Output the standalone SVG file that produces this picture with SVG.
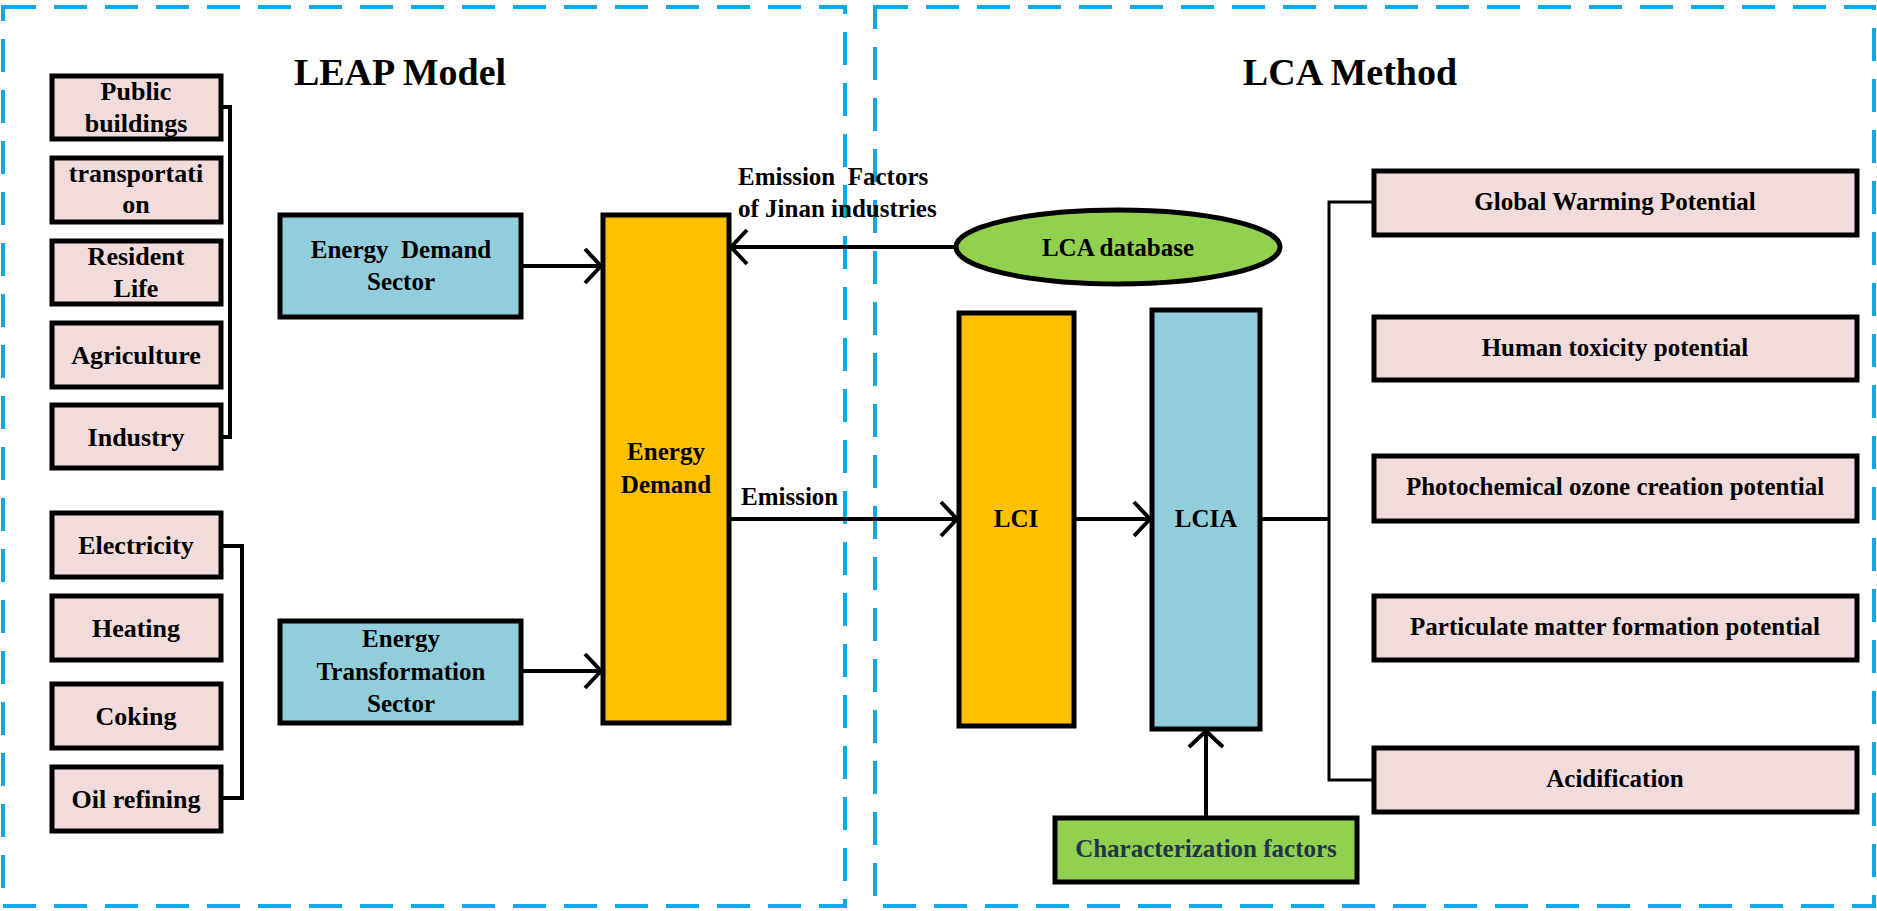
<svg xmlns="http://www.w3.org/2000/svg" width="1877" height="911" viewBox="0 0 1877 911">
<style>
.panel{fill:none;stroke:#0FA8E8;stroke-width:4;stroke-dasharray:33 18}
.box{stroke:#000;stroke-width:5}
.pink{fill:#F2DCDB}
.blue{fill:#92CDDC}
.yellow{fill:#FFC000}
.green{fill:#92D050}
text{font-family:"Liberation Serif","Times New Roman",serif;font-weight:bold;font-size:25px;fill:#000;text-anchor:middle;white-space:pre}
.sm{font-size:26px}
.title{font-size:38px}
.lbl{text-anchor:start}
.conn{fill:none;stroke:#000;stroke-width:4}
.thin{fill:none;stroke:#000;stroke-width:3}
</style>
<defs>
<marker id="arr" viewBox="0 0 20 40" refX="18" refY="20" markerWidth="20" markerHeight="40" markerUnits="userSpaceOnUse" orient="auto">
<path d="M2,3 L18,20 L2,37" fill="none" stroke="#000" stroke-width="4"/>
</marker>
</defs>
<rect width="1877" height="911" fill="#fff"/>
<g id="panels">
<rect class="panel" x="3" y="7" width="842" height="899"/>
<rect class="panel" x="875" y="7" width="999" height="899"/>
<text class="title" x="400" y="85">LEAP Model</text>
<text class="title" x="1350" y="85">LCA Method</text>
</g>
<g id="connectors">
<polyline class="conn" points="221,107 230,107 230,437 221,437"/>
<polyline class="conn" points="221,546 242,546 242,798 221,798"/>
<line class="conn" x1="521" y1="266" x2="601" y2="266" marker-end="url(#arr)"/>
<line class="conn" x1="521" y1="671" x2="601" y2="671" marker-end="url(#arr)"/>
<line class="conn" x1="956" y1="247" x2="731" y2="247" marker-end="url(#arr)"/>
<line class="conn" x1="729" y1="519" x2="957" y2="519" marker-end="url(#arr)"/>
<line class="conn" x1="1074" y1="519" x2="1150" y2="519" marker-end="url(#arr)"/>
<line class="conn" x1="1206" y1="818" x2="1206" y2="731" marker-end="url(#arr)"/>
<line class="conn" x1="1260" y1="519" x2="1329" y2="519"/>
<polyline class="thin" points="1374,202 1329,202 1329,780 1374,780"/>
<text class="lbl" x="738" y="185">Emission  Factors</text>
<text class="lbl" x="738" y="217">of Jinan industries</text>
<text class="lbl" x="741" y="505">Emission</text>
</g>
<g id="public-buildings"><rect class="box pink" x="52" y="76" width="169" height="63"/><text class="sm" x="136" y="100">Public</text><text class="sm" x="136" y="132">buildings</text></g>
<g id="transportation"><rect class="box pink" x="52" y="158" width="169" height="64"/><text class="sm" x="136" y="182">transportati</text><text class="sm" x="136" y="213">on</text></g>
<g id="resident-life"><rect class="box pink" x="52" y="241" width="169" height="63"/><text class="sm" x="136" y="265">Resident</text><text class="sm" x="136" y="297">Life</text></g>
<g id="agriculture"><rect class="box pink" x="52" y="323" width="169" height="64"/><text class="sm" x="136" y="364">Agriculture</text></g>
<g id="industry"><rect class="box pink" x="52" y="405" width="169" height="63"/><text class="sm" x="136" y="446">Industry</text></g>
<g id="electricity"><rect class="box pink" x="52" y="513" width="169" height="64"/><text class="sm" x="136" y="554">Electricity</text></g>
<g id="heating"><rect class="box pink" x="52" y="596" width="169" height="64"/><text class="sm" x="136" y="637">Heating</text></g>
<g id="coking"><rect class="box pink" x="52" y="684" width="169" height="64"/><text class="sm" x="136" y="725">Coking</text></g>
<g id="oil-refining"><rect class="box pink" x="52" y="767" width="169" height="64"/><text class="sm" x="136" y="808">Oil refining</text></g>
<g id="energy-demand-sector"><rect class="box blue" x="280" y="215" width="241" height="102"/><text x="401" y="258">Energy  Demand</text><text x="401" y="290">Sector</text></g>
<g id="energy-transformation-sector"><rect class="box blue" x="280" y="621" width="241" height="102"/><text x="401" y="647">Energy</text><text x="401" y="680">Transformation</text><text x="401" y="712">Sector</text></g>
<g id="energy-demand"><rect class="box yellow" x="603" y="215" width="126" height="508"/><text x="666" y="460">Energy</text><text x="666" y="493">Demand</text></g>
<g id="lca-database"><ellipse class="box green" cx="1118" cy="247" rx="162" ry="37"/><text x="1118" y="256">LCA database</text></g>
<g id="lci"><rect class="box yellow" x="959" y="313" width="115" height="413"/><text x="1016" y="527">LCI</text></g>
<g id="lcia"><rect class="box blue" x="1152" y="310" width="108" height="419"/><text x="1206" y="527">LCIA</text></g>
<g id="characterization-factors"><rect class="box green" x="1055" y="818" width="302" height="64"/><text x="1206" y="857" style="fill:#213547">Characterization factors</text></g>
<g id="gwp"><rect class="box pink" x="1374" y="171" width="483" height="64"/><text x="1615" y="210">Global Warming Potential</text></g>
<g id="htp"><rect class="box pink" x="1374" y="317" width="483" height="63"/><text x="1615" y="356">Human toxicity potential</text></g>
<g id="pocp"><rect class="box pink" x="1374" y="456" width="483" height="65"/><text x="1615" y="495">Photochemical ozone creation potential</text></g>
<g id="pmfp"><rect class="box pink" x="1374" y="596" width="483" height="64"/><text x="1615" y="635">Particulate matter formation potential</text></g>
<g id="acidification"><rect class="box pink" x="1374" y="748" width="483" height="64"/><text x="1615" y="787">Acidification</text></g>
</svg>
